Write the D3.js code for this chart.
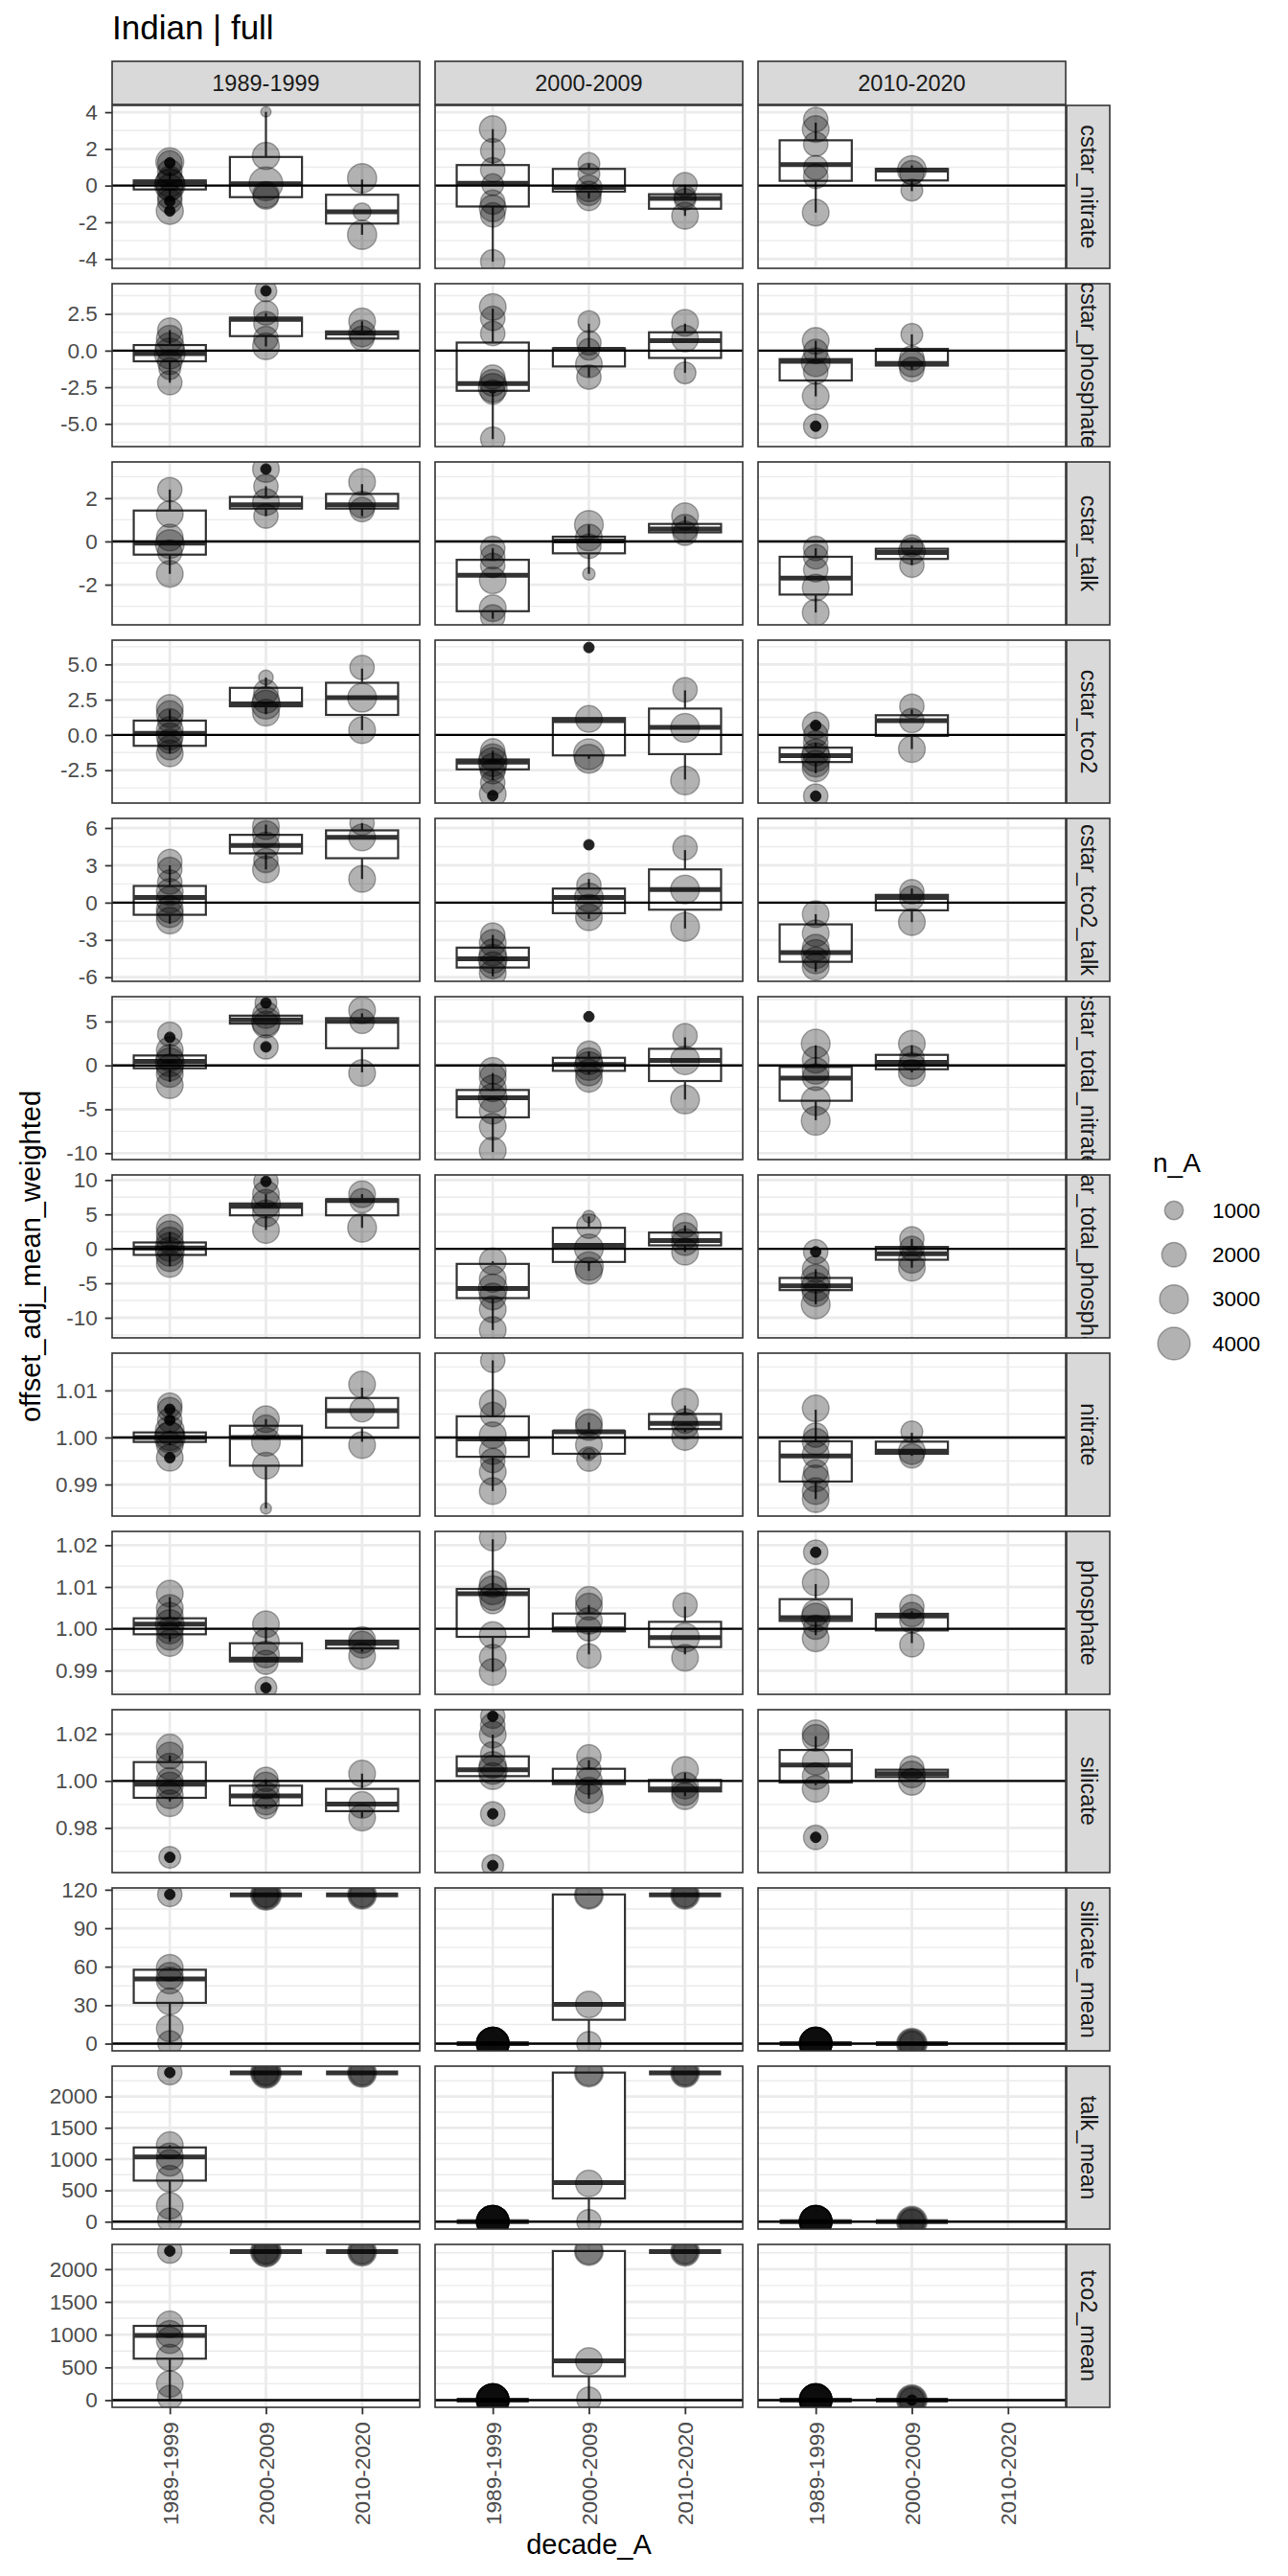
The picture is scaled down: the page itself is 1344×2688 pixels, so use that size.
<!DOCTYPE html>
<html>
<head>
<meta charset="utf-8">
<script src="https://cdn.jsdelivr.net/npm/d3@7"></script>
<style>
  body { margin: 0; background: #fff; }
  svg { display: block; }
</style>
</head>
<body>
<div id="chart"></div>
<script>
'use strict'

// facet columns and x categories share the same decades
const decades = ['1989-1999', '2000-2009', '2010-2020']

const variables = [
  'cstar_nitrate', 'cstar_phosphate', 'cstar_talk', 'cstar_tco2', 'cstar_tco2_talk',
  'cstar_total_nitrate', 'cstar_total_phosphate', 'nitrate', 'phosphate', 'silicate',
  'silicate_mean', 'talk_mean', 'tco2_mean'
]

// free y scale limits per row
const yLimits = [
  [-4.51, 4.37], [-6.55, 4.57], [-3.86, 3.68], [-4.83, 6.72], [-6.33, 6.77],
  [-10.73, 7.83], [-12.92, 10.74], [0.98329, 1.01793], [0.98435, 1.02328], [0.9610, 1.0303],
  [-5.6, 121.4], [-118, 2484], [-110, 2378]
]

const yTicks = [
  [-4, -2, 0, 2, 4], [-5, -2.5, 0, 2.5], [-2, 0, 2], [-2.5, 0, 2.5, 5], [-6, -3, 0, 3, 6],
  [-10, -5, 0, 5], [-10, -5, 0, 5, 10], [0.99, 1.00, 1.01], [0.99, 1.00, 1.01, 1.02], [0.98, 1.00, 1.02],
  [0, 30, 60, 90, 120], [0, 500, 1000, 1500, 2000], [0, 500, 1000, 1500, 2000]
]

const yFormats = ['d', '.1f', 'd', '.1f', 'd', 'd', 'd', '.2f', '.2f', '.2f', 'd', 'd', 'd']

// reference line per row
const refLines = [0, 0, 0, 0, 0, 0, 0, 1, 1, 1, 0, 0, 0]

// [variable, facet column, x category, lower whisker, q1, median, q3, upper whisker]
const boxStats = [
  ['cstar_nitrate', 0, 0, -0.6, -0.21, 0.18, 0.28, 0.75],
  ['cstar_nitrate', 0, 1, -0.6, -0.63, 0.1, 1.56, 4.02],
  ['cstar_nitrate', 0, 2, -2.68, -2.07, -1.43, -0.5, 0.33],
  ['cstar_nitrate', 1, 0, -4.15, -1.14, 0.12, 1.12, 3.08],
  ['cstar_nitrate', 1, 1, -0.7, -0.33, -0.1, 0.91, 1.2],
  ['cstar_nitrate', 1, 2, -1.65, -1.26, -0.7, -0.47, 0.05],
  ['cstar_nitrate', 2, 0, -1.47, 0.26, 1.14, 2.47, 3.43],
  ['cstar_nitrate', 2, 1, -0.3, 0.28, 0.84, 0.91, 1.1],

  ['cstar_phosphate', 0, 0, -2.19, -0.73, -0.2, 0.38, 1.4],
  ['cstar_phosphate', 0, 1, 0.29, 0.99, 2.13, 2.25, 2.57],
  ['cstar_phosphate', 0, 2, 0.8, 0.82, 1.2, 1.31, 2.0],
  ['cstar_phosphate', 1, 0, -6.04, -2.74, -2.25, 0.55, 2.86],
  ['cstar_phosphate', 1, 1, -1.81, -1.08, 0.09, 0.15, 1.84],
  ['cstar_phosphate', 1, 2, -1.52, -0.5, 0.67, 1.25, 1.84],
  ['cstar_phosphate', 2, 0, -3.12, -2.04, -0.73, -0.58, 0.67],
  ['cstar_phosphate', 2, 1, -1.28, -1.02, -0.88, 0.12, 1.11],

  ['cstar_talk', 0, 0, -1.5, -0.61, -0.08, 1.43, 2.4],
  ['cstar_talk', 0, 1, 1.17, 1.52, 1.7, 2.06, 2.55],
  ['cstar_talk', 0, 2, 1.17, 1.52, 1.7, 2.2, 2.65],
  ['cstar_talk', 1, 0, -3.58, -3.23, -1.56, -0.85, -0.32],
  ['cstar_talk', 1, 1, -1.5, -0.55, 0.02, 0.22, 0.77],
  ['cstar_talk', 1, 2, 0.38, 0.42, 0.57, 0.81, 1.17],
  ['cstar_talk', 2, 0, -3.29, -2.46, -1.7, -0.71, -0.32],
  ['cstar_talk', 2, 1, -1.1, -0.81, -0.51, -0.34, -0.2],

  ['cstar_tco2', 0, 0, -1.31, -0.77, 0.11, 1.02, 1.8],
  ['cstar_tco2', 0, 1, 1.47, 2.03, 2.21, 3.34, 4.07],
  ['cstar_tco2', 0, 2, 0.34, 1.42, 2.64, 3.7, 4.7],
  ['cstar_tco2', 1, 0, -3.2, -2.44, -1.92, -1.74, -1.13],
  ['cstar_tco2', 1, 1, -1.69, -1.45, 1.02, 1.2, 1.2],
  ['cstar_tco2', 1, 2, -3.16, -1.36, 0.54, 1.87, 3.16],
  ['cstar_tco2', 2, 0, -2.71, -1.92, -1.47, -0.9, -0.56],
  ['cstar_tco2', 2, 1, -1.0, -0.07, 1.02, 1.4, 1.8],

  ['cstar_tco2_talk', 0, 0, -1.7, -0.98, 0.41, 1.34, 3.0],
  ['cstar_tco2_talk', 0, 1, 2.67, 3.96, 4.6, 5.45, 6.27],
  ['cstar_tco2_talk', 0, 2, 1.9, 3.57, 5.24, 5.81, 6.4],
  ['cstar_tco2_talk', 1, 0, -5.94, -5.22, -4.52, -3.62, -2.6],
  ['cstar_tco2_talk', 1, 1, -1.3, -0.85, 0.41, 1.13, 1.9],
  ['cstar_tco2_talk', 1, 2, -2.08, -0.57, 1.05, 2.67, 4.22],
  ['cstar_tco2_talk', 2, 0, -5.55, -4.76, -4.01, -1.75, -0.93],
  ['cstar_tco2_talk', 2, 1, -1.57, -0.62, 0.41, 0.62, 1.13],

  ['cstar_total_nitrate', 0, 0, -1.89, -0.33, 0.47, 1.13, 2.47],
  ['cstar_total_nitrate', 0, 1, 4.65, 4.76, 5.19, 5.67, 5.74],
  ['cstar_total_nitrate', 0, 2, -0.8, 1.96, 5.01, 5.38, 5.92],
  ['cstar_total_nitrate', 1, 0, -9.88, -5.92, -3.7, -2.8, -0.87],
  ['cstar_total_nitrate', 1, 1, -0.98, -0.62, 0.11, 0.87, 1.56],
  ['cstar_total_nitrate', 1, 2, -3.89, -1.78, 0.58, 1.89, 3.2],
  ['cstar_total_nitrate', 2, 0, -6.25, -4.03, -1.45, -0.18, 2.29],
  ['cstar_total_nitrate', 2, 1, -0.8, -0.44, 0.36, 1.2, 2.29],

  ['cstar_total_phosphate', 0, 0, -2.5, -0.88, 0.14, 0.93, 2.46],
  ['cstar_total_phosphate', 0, 1, 2.74, 4.87, 6.17, 6.59, 7.94],
  ['cstar_total_phosphate', 0, 2, 3.06, 4.87, 7.0, 7.19, 7.94],
  ['cstar_total_phosphate', 1, 0, -11.79, -7.15, -5.75, -2.18, -1.81],
  ['cstar_total_phosphate', 1, 1, -3.2, -1.9, 0.51, 3.06, 4.69],
  ['cstar_total_phosphate', 1, 2, -0.42, 0.51, 1.21, 2.37, 3.39],
  ['cstar_total_phosphate', 2, 0, -8.07, -5.99, -5.38, -4.22, -2.97],
  ['cstar_total_phosphate', 2, 1, -2.74, -1.58, -0.7, 0.28, 1.44],

  ['nitrate', 0, 0, 0.9984, 0.99905, 1.0, 1.00108, 1.0015],
  ['nitrate', 0, 1, 0.9849, 0.994, 1.0, 1.0025, 1.0039],
  ['nitrate', 0, 2, 0.9991, 1.0021, 1.0057, 1.0084, 1.0106],
  ['nitrate', 1, 0, 0.9886, 0.9959, 0.9997, 1.0045, 1.0164],
  ['nitrate', 1, 1, 0.9954, 0.99654, 1.0012, 1.00136, 1.0032],
  ['nitrate', 1, 2, 1.0012, 1.0018, 1.003, 1.005, 1.0068],
  ['nitrate', 2, 0, 0.9869, 0.99064, 0.99607, 0.99919, 1.0059],
  ['nitrate', 2, 1, 0.9961, 0.99654, 0.99708, 0.99912, 1.001],

  ['phosphate', 0, 0, 0.9969, 0.9987, 1.00115, 1.00252, 1.0076],
  ['phosphate', 0, 1, 0.992, 0.99221, 0.99275, 0.99656, 1.0004],
  ['phosphate', 0, 2, 0.9945, 0.99534, 0.99656, 0.99718, 0.9973],
  ['phosphate', 1, 0, 0.9897, 0.99809, 1.0084, 1.00954, 1.0214],
  ['phosphate', 1, 1, 0.9939, 0.99939, 1.0, 1.00366, 1.0057],
  ['phosphate', 1, 2, 0.9939, 0.99565, 0.99794, 1.00168, 1.0053],
  ['phosphate', 2, 0, 0.9985, 1.0019, 1.00267, 1.0071, 1.0107],
  ['phosphate', 2, 1, 0.9966, 0.99962, 1.00305, 1.00359, 1.0042],

  ['silicate', 0, 0, 0.9912, 0.99281, 0.99864, 1.008, 1.0108],
  ['silicate', 0, 1, 0.9885, 0.98956, 0.99363, 0.99797, 1.0007],
  ['silicate', 0, 2, 0.9844, 0.98712, 0.9901, 0.99661, 1.0031],
  ['silicate', 1, 0, 1.002, 1.00203, 1.00475, 1.01044, 1.0197],
  ['silicate', 1, 1, 0.9925, 0.99864, 0.9996, 1.00515, 1.0088],
  ['silicate', 1, 2, 0.9935, 0.99553, 0.99661, 1.0004, 1.0034],
  ['silicate', 2, 0, 0.9982, 0.99932, 1.00678, 1.01315, 1.019],
  ['silicate', 2, 1, 1.0016, 1.00163, 1.00312, 1.00475, 1.0054],

  ['silicate_mean', 0, 0, 0, 31.8, 50.4, 57.6, 59.1],
  ['silicate_mean', 0, 1, 116, 116, 116, 116, 116],
  ['silicate_mean', 0, 2, 116, 116, 116, 116, 116],
  ['silicate_mean', 1, 0, 0, 0, 0, 0, 0],
  ['silicate_mean', 1, 1, 0, 18.6, 30.6, 116.3, 116.3],
  ['silicate_mean', 1, 2, 116, 116, 116, 116, 116],
  ['silicate_mean', 2, 0, 0, 0, 0, 0, 0],
  ['silicate_mean', 2, 1, 0, 0, 0, 0, 0],

  ['talk_mean', 0, 0, 0, 656, 1033, 1186, 1221],
  ['talk_mean', 0, 1, 2376, 2376, 2376, 2376, 2376],
  ['talk_mean', 0, 2, 2376, 2376, 2376, 2376, 2376],
  ['talk_mean', 1, 0, 0, 0, 0, 0, 0],
  ['talk_mean', 1, 1, 0, 371, 626, 2382, 2382],
  ['talk_mean', 1, 2, 2376, 2376, 2376, 2376, 2376],
  ['talk_mean', 2, 0, 0, 0, 0, 0, 0],
  ['talk_mean', 2, 1, 0, 0, 0, 0, 0],

  ['tco2_mean', 0, 0, 0, 633, 988, 1134, 1158],
  ['tco2_mean', 0, 1, 2268, 2268, 2268, 2268, 2268],
  ['tco2_mean', 0, 2, 2268, 2268, 2268, 2268, 2268],
  ['tco2_mean', 1, 0, 0, 0, 0, 0, 0],
  ['tco2_mean', 1, 1, 0, 365, 599, 2277, 2277],
  ['tco2_mean', 1, 2, 2268, 2268, 2268, 2268, 2268],
  ['tco2_mean', 2, 0, 0, 0, 0, 0, 0],
  ['tco2_mean', 2, 1, 0, 0, 0, 0, 0]
]

// [variable, facet column, x category, [[value, n_A], ...]]
const pointValues = [
  ['cstar_nitrate', 0, 0, [[1.3, 2800], [1.24, 2000], [0.75, 2000], [0.4, 2000], [0.15, 3000], [0.05, 3500], [-0.1, 2500], [-0.6, 2000], [-0.85, 2000], [-1.38, 2600]]],
  ['cstar_nitrate', 0, 1, [[4.02, 150], [1.62, 2600], [0.1, 4400], [-0.5, 2400], [-0.6, 2200]]],
  ['cstar_nitrate', 0, 2, [[0.4, 3100], [-1.43, 900], [-2.68, 3100]]],
  ['cstar_nitrate', 1, 0, [[3.08, 2500], [1.9, 2000], [0.86, 2000], [0.05, 1500], [-0.9, 2000], [-1.24, 2500], [-1.6, 2000], [-4.15, 2000]]],
  ['cstar_nitrate', 1, 1, [[1.2, 1500], [0.63, 1500], [-0.15, 2500], [-0.42, 2000], [-0.7, 2000]]],
  ['cstar_nitrate', 1, 2, [[0.05, 2000], [-0.6, 1500], [-0.75, 1500], [-1.65, 2500]]],
  ['cstar_nitrate', 2, 0, [[3.6, 2000], [3.08, 2500], [2.26, 2000], [0.98, 2000], [0.51, 2000], [-1.47, 2500]]],
  ['cstar_nitrate', 2, 1, [[0.85, 3000], [0.7, 2000], [-0.25, 1500]]],

  ['cstar_phosphate', 0, 0, [[1.4, 2000], [0.82, 2500], [0.23, 3000], [-0.2, 3500], [-0.79, 2000], [-1.23, 1500], [-2.19, 2000]]],
  ['cstar_phosphate', 0, 1, [[4.08, 1500], [2.57, 2000], [1.84, 2000], [0.82, 2000], [0.29, 2500]]],
  ['cstar_phosphate', 0, 2, [[2.0, 2500], [1.17, 2500], [0.85, 2000]]],
  ['cstar_phosphate', 1, 0, [[2.98, 2500], [2.2, 2000], [1.17, 2000], [-1.8, 2000], [-2.19, 2500], [-2.54, 3000], [-2.83, 2000], [-6.04, 2000]]],
  ['cstar_phosphate', 1, 1, [[1.98, 1500], [0.53, 2000], [0.09, 1500], [-0.93, 2500], [-1.81, 2000]]],
  ['cstar_phosphate', 1, 2, [[1.9, 2500], [0.82, 2500], [-1.52, 1500]]],
  ['cstar_phosphate', 2, 0, [[0.67, 2500], [-0.06, 2000], [-0.79, 3000], [-1.46, 2000], [-3.12, 2500], [-5.16, 2000]]],
  ['cstar_phosphate', 2, 1, [[1.11, 1500], [-0.5, 2000], [-0.88, 2500], [-1.28, 2000]]],

  ['cstar_talk', 0, 0, [[2.4, 2000], [1.27, 2500], [0.18, 2500], [-0.12, 3000], [-0.5, 2000], [-1.5, 2500]]],
  ['cstar_talk', 0, 1, [[3.35, 2500], [2.55, 2000], [1.82, 2500], [1.17, 2000]]],
  ['cstar_talk', 0, 2, [[2.75, 2500], [1.7, 2500], [1.47, 2000]]],
  ['cstar_talk', 1, 0, [[-0.32, 2000], [-0.71, 2000], [-1.11, 2000], [-1.8, 2500], [-3.09, 2500], [-3.49, 2000]]],
  ['cstar_talk', 1, 1, [[0.77, 3000], [0.18, 2500], [-0.22, 2000], [-1.5, 300]]],
  ['cstar_talk', 1, 2, [[1.17, 2500], [0.63, 2500], [0.38, 2000]]],
  ['cstar_talk', 2, 0, [[-0.32, 2000], [-0.71, 2000], [-1.31, 2000], [-2.14, 2500], [-3.29, 2500]]],
  ['cstar_talk', 2, 1, [[-0.2, 1500], [-0.45, 2500], [-1.1, 2000]]],

  ['cstar_tco2', 0, 0, [[1.92, 2500], [1.47, 2500], [1.0, 2000], [0.34, 2500], [-0.11, 2500], [-0.45, 2000], [-0.9, 2000], [-1.31, 2500]]],
  ['cstar_tco2', 0, 1, [[4.07, 500], [3.05, 2000], [2.48, 2500], [2.15, 3000], [1.58, 2500]]],
  ['cstar_tco2', 0, 2, [[4.79, 2000], [2.64, 3000], [0.34, 2500]]],
  ['cstar_tco2', 1, 0, [[-1.13, 2000], [-1.58, 2500], [-1.92, 3000], [-2.26, 2500], [-2.6, 2000], [-3.39, 2000], [-4.18, 2500]]],
  ['cstar_tco2', 1, 1, [[1.13, 2500], [-1.36, 3500], [-1.69, 3000]]],
  ['cstar_tco2', 1, 2, [[3.2, 2000], [0.5, 3000], [-3.23, 3000]]],
  ['cstar_tco2', 2, 0, [[0.68, 2500], [0.0, 2000], [-0.56, 2000], [-1.24, 2500], [-1.58, 3000], [-2.03, 2500], [-2.37, 2500], [-4.34, 2000]]],
  ['cstar_tco2', 2, 1, [[2.03, 2000], [1.02, 2000], [-1.0, 2500]]],

  ['cstar_tco2_talk', 0, 0, [[3.3, 2000], [2.67, 2000], [1.65, 2000], [0.87, 2500], [0.23, 2500], [-0.54, 2500], [-0.93, 2500], [-1.44, 2500]]],
  ['cstar_tco2_talk', 0, 1, [[6.14, 2500], [5.5, 2500], [4.6, 2500], [3.39, 2000], [2.67, 2500]]],
  ['cstar_tco2_talk', 0, 2, [[6.4, 2000], [5.24, 2500], [1.9, 2500]]],
  ['cstar_tco2_talk', 1, 0, [[-2.6, 2000], [-3.24, 2500], [-4.01, 2500], [-4.52, 3000], [-5.04, 2500], [-5.68, 2500]]],
  ['cstar_tco2_talk', 1, 1, [[1.39, 2000], [0.41, 3000], [-0.41, 2500], [-1.18, 2500]]],
  ['cstar_tco2_talk', 1, 2, [[4.42, 2000], [1.05, 3000], [-1.95, 3000]]],
  ['cstar_tco2_talk', 2, 0, [[-0.93, 2500], [-2.47, 2500], [-3.62, 2500], [-4.14, 3000], [-4.65, 2500], [-5.17, 2500]]],
  ['cstar_tco2_talk', 2, 1, [[0.87, 2000], [0.36, 2000], [-1.57, 2500]]],

  ['cstar_total_nitrate', 0, 0, [[3.56, 2000], [1.74, 2500], [0.84, 2500], [0.36, 3000], [-0.25, 2500], [-0.98, 2500], [-2.25, 2500]]],
  ['cstar_total_nitrate', 0, 1, [[7.12, 1500], [5.74, 2500], [5.0, 3000], [4.65, 2500], [2.11, 2000]]],
  ['cstar_total_nitrate', 0, 2, [[6.28, 2500], [5.01, 2000], [-0.87, 2500]]],
  ['cstar_total_nitrate', 1, 0, [[-0.62, 2500], [-1.34, 2500], [-2.62, 2500], [-3.7, 3000], [-5.16, 2500], [-6.97, 2500], [-9.7, 2500]]],
  ['cstar_total_nitrate', 1, 1, [[1.38, 2000], [0.47, 2500], [-0.07, 3000], [-0.8, 2500], [-1.53, 2500]]],
  ['cstar_total_nitrate', 1, 2, [[3.38, 2000], [0.58, 3000], [-3.89, 3000]]],
  ['cstar_total_nitrate', 2, 0, [[2.47, 3000], [0.65, 2500], [-0.62, 2500], [-1.34, 2500], [-4.07, 3000], [-6.32, 3000]]],
  ['cstar_total_nitrate', 2, 1, [[2.47, 2500], [0.84, 2000], [-0.07, 2500], [-0.87, 2500]]],

  ['cstar_total_phosphate', 0, 0, [[3.06, 2500], [2.13, 2500], [1.21, 2500], [0.28, 3000], [-0.42, 3000], [-1.35, 2500], [-2.18, 2500]]],
  ['cstar_total_phosphate', 0, 1, [[9.8, 2000], [7.94, 2500], [6.54, 3000], [5.15, 2500], [2.74, 2500]]],
  ['cstar_total_phosphate', 0, 2, [[7.94, 2500], [7.0, 2000], [3.06, 3000]]],
  ['cstar_total_phosphate', 1, 0, [[-1.81, 2500], [-4.36, 2500], [-5.75, 3000], [-6.91, 2500], [-8.77, 2500], [-11.79, 2500]]],
  ['cstar_total_phosphate', 1, 1, [[4.69, 300], [3.29, 2000], [0.05, 3000], [-2.5, 3000], [-3.2, 2500]]],
  ['cstar_total_phosphate', 1, 2, [[3.39, 2000], [1.9, 2500], [0.97, 2500], [-0.42, 2500]]],
  ['cstar_total_phosphate', 2, 0, [[-0.42, 2000], [-2.97, 2500], [-4.36, 3000], [-5.52, 3000], [-6.45, 2500], [-8.07, 3000]]],
  ['cstar_total_phosphate', 2, 1, [[1.44, 2000], [0.05, 2000], [-1.58, 2500], [-2.74, 2500]]],

  ['nitrate', 0, 0, [[1.0069, 2000], [1.0059, 2000], [1.0037, 2000], [1.0015, 3000], [1.0, 3500], [1.0003, 3000], [0.9984, 2500], [0.9957, 2500]]],
  ['nitrate', 0, 1, [[1.0039, 2500], [1.0022, 2000], [0.9991, 3000], [0.994, 2500], [0.9849, 200]]],
  ['nitrate', 0, 2, [[1.0113, 2500], [1.0059, 2000], [0.9984, 2500]]],
  ['nitrate', 1, 0, [[1.0164, 2000], [1.0073, 2500], [1.0049, 2000], [1.0005, 2500], [0.9971, 2500], [0.9951, 2000], [0.9927, 2500], [0.9886, 2500]]],
  ['nitrate', 1, 1, [[1.0032, 2500], [1.0022, 2500], [0.9984, 2500], [0.9964, 300], [0.9954, 2000]]],
  ['nitrate', 1, 2, [[1.0076, 2500], [1.0035, 2000], [1.0025, 2500], [1.0001, 2500]]],
  ['nitrate', 2, 0, [[1.0062, 2500], [1.0005, 2000], [0.9991, 2500], [0.9964, 2500], [0.9927, 2000], [0.9913, 2500], [0.9886, 2500], [0.9869, 2500]]],
  ['nitrate', 2, 1, [[1.0012, 1500], [0.9971, 2500], [0.9961, 2000]]],

  ['phosphate', 0, 0, [[1.0084, 2500], [1.005, 2500], [1.0031, 2500], [1.0011, 3000], [0.9996, 2500], [0.9981, 2500], [0.9966, 2500]]],
  ['phosphate', 0, 1, [[1.0011, 2500], [0.9969, 2500], [0.9939, 2500], [0.992, 2000], [0.9859, 1500]]],
  ['phosphate', 0, 2, [[0.9973, 2500], [0.9962, 2500], [0.9935, 2500]]],
  ['phosphate', 1, 0, [[1.0218, 2500], [1.0107, 2500], [1.0092, 3000], [1.0076, 2500], [1.0065, 2000], [0.9985, 2500], [0.9931, 2500], [0.9897, 2500]]],
  ['phosphate', 1, 1, [[1.0069, 2500], [1.0053, 2500], [1.0019, 2500], [1.0, 2000], [0.9935, 2000]]],
  ['phosphate', 1, 2, [[1.0057, 2000], [0.9979, 3000], [0.9931, 2500]]],
  ['phosphate', 2, 0, [[1.0183, 2000], [1.0111, 2500], [1.0038, 2500], [1.0027, 3000], [1.0004, 2000], [0.9977, 2500]]],
  ['phosphate', 2, 1, [[1.0053, 2000], [1.0034, 2000], [1.0019, 2000], [0.9962, 2000]]],

  ['silicate', 0, 0, [[1.0142, 2500], [1.0108, 2500], [1.0061, 2500], [1.0, 2500], [0.998, 2500], [0.9939, 2500], [0.9905, 2500], [0.9675, 1500]]],
  ['silicate', 0, 1, [[1.0007, 2000], [0.998, 2500], [0.9939, 2500], [0.9912, 2500], [0.9885, 1500]]],
  ['silicate', 0, 2, [[1.0031, 2500], [0.9898, 2500], [0.9844, 2500]]],
  ['silicate', 1, 0, [[1.0275, 2000], [1.0237, 2000], [1.0197, 2500], [1.0115, 2000], [1.0068, 2500], [1.0047, 3000], [1.002, 2500], [0.986, 2000], [0.964, 1500]]],
  ['silicate', 1, 1, [[1.0102, 2000], [1.0047, 2000], [1.0, 2500], [0.9959, 2500], [0.9925, 3000]]],
  ['silicate', 1, 2, [[1.0047, 2500], [0.998, 2500], [0.9953, 2500], [0.9935, 2500]]],
  ['silicate', 2, 0, [[1.0203, 2500], [1.0183, 2500], [1.0081, 2500], [1.002, 2500], [0.9966, 2500], [0.976, 2000]]],
  ['silicate', 2, 1, [[1.0054, 2000], [1.0027, 2500], [0.9996, 2500]]],

  ['silicate_mean', 0, 0, [[116.3, 2000], [59.1, 2500], [52.9, 2500], [49.2, 2500], [33.0, 2500], [11.9, 2500], [0.5, 2000]]],
  ['silicate_mean', 0, 1, [[116, 3500], [116, 3000], [116, 2500], [116, 2000]]],
  ['silicate_mean', 0, 2, [[116, 3000], [116, 2500], [116, 2000]]],
  ['silicate_mean', 1, 0, [[0, 4000], [0, 4000], [0, 4000], [0, 4000], [0, 4000], [0, 4000], [0, 4000], [0, 4000]]],
  ['silicate_mean', 1, 1, [[116, 3000], [116, 2500], [30.6, 2500], [0, 2000]]],
  ['silicate_mean', 1, 2, [[116, 3000], [116, 2500], [116, 2000]]],
  ['silicate_mean', 2, 0, [[0, 4000], [0, 4000], [0, 4000], [0, 4000], [0, 4000], [0, 4000], [0, 4000], [0, 4000]]],
  ['silicate_mean', 2, 1, [[0, 3500], [0, 3000], [0, 2500], [0, 2000]]],

  ['talk_mean', 0, 0, [[2382, 2000], [1221, 2500], [1043, 2500], [941, 2500], [687, 2500], [254, 2500], [25, 2000]]],
  ['talk_mean', 0, 1, [[2376, 3500], [2376, 3000], [2376, 2500], [2376, 2000]]],
  ['talk_mean', 0, 2, [[2376, 3000], [2376, 2500], [2376, 2000]]],
  ['talk_mean', 1, 0, [[0, 4000], [0, 4000], [0, 4000], [0, 4000], [0, 4000], [0, 4000], [0, 4000], [0, 4000]]],
  ['talk_mean', 1, 1, [[2382, 3000], [2382, 2500], [611, 2500], [0, 2000]]],
  ['talk_mean', 1, 2, [[2376, 3000], [2376, 2500], [2376, 2000]]],
  ['talk_mean', 2, 0, [[0, 4000], [0, 4000], [0, 4000], [0, 4000], [0, 4000], [0, 4000], [0, 4000], [0, 4000]]],
  ['talk_mean', 2, 1, [[0, 3500], [0, 3000], [0, 2500], [0, 2000]]],

  ['tco2_mean', 0, 0, [[2277, 2000], [1158, 2500], [1012, 2500], [915, 2500], [647, 2500], [248, 2500], [39, 2000]]],
  ['tco2_mean', 0, 1, [[2268, 3500], [2268, 3000], [2268, 2500], [2268, 2000]]],
  ['tco2_mean', 0, 2, [[2268, 3000], [2268, 2500], [2268, 2000]]],
  ['tco2_mean', 1, 0, [[0, 4000], [0, 4000], [0, 4000], [0, 4000], [0, 4000], [0, 4000], [0, 4000], [0, 4000]]],
  ['tco2_mean', 1, 1, [[2277, 3000], [2277, 2500], [599, 2500], [15, 2000]]],
  ['tco2_mean', 1, 2, [[2268, 3000], [2268, 2500], [2268, 2000]]],
  ['tco2_mean', 2, 0, [[0, 4000], [0, 4000], [0, 4000], [0, 4000], [0, 4000], [0, 4000], [0, 4000], [0, 4000]]],
  ['tco2_mean', 2, 1, [[0, 3500], [0, 3000], [0, 2500], [0, 2000]]]
]

// boxplot outliers [variable, facet column, x category, value]
const outlierValues = [
  ['cstar_nitrate', 0, 0, 1.24], ['cstar_nitrate', 0, 0, -0.85], ['cstar_nitrate', 0, 0, -1.38],
  ['cstar_phosphate', 0, 1, 4.08], ['cstar_phosphate', 1, 0, -2.54], ['cstar_phosphate', 2, 0, -5.16],
  ['cstar_talk', 0, 1, 3.35],
  ['cstar_tco2', 1, 0, -4.3], ['cstar_tco2', 1, 1, 6.2], ['cstar_tco2', 2, 0, 0.68], ['cstar_tco2', 2, 0, -4.34],
  ['cstar_tco2_talk', 1, 1, 4.65],
  ['cstar_total_nitrate', 0, 0, 3.2], ['cstar_total_nitrate', 0, 1, 7.12], ['cstar_total_nitrate', 0, 1, 2.11],
  ['cstar_total_nitrate', 1, 1, 5.56],
  ['cstar_total_phosphate', 0, 1, 9.8], ['cstar_total_phosphate', 2, 0, -0.42],
  ['nitrate', 0, 0, 1.006], ['nitrate', 0, 0, 1.0037], ['nitrate', 0, 0, 0.9957],
  ['phosphate', 0, 1, 0.9859], ['phosphate', 2, 0, 1.0183],
  ['silicate', 0, 0, 0.9675], ['silicate', 1, 0, 1.0275], ['silicate', 1, 0, 0.986], ['silicate', 1, 0, 0.964],
  ['silicate', 2, 0, 0.976],
  ['silicate_mean', 0, 0, 116.3],
  ['talk_mean', 0, 0, 2382],
  ['tco2_mean', 0, 0, 2277], ['tco2_mean', 2, 1, 0]
]

const legendBreaks = [1000, 2000, 3000, 4000]

// ---- layout ----
const W = 1344
const H = 2688
const FONT = '"Liberation Sans", Arial, Helvetica, sans-serif'
const plotLeft = 117
const panelW = 321
const gapX = 16
const panelTop = 110
const panelH = 170
const gapY = 16
const stripW = 45
const stripH = 45
const tickLen = 7.3
const lineCol = '#333333'

const fmtLocale = d3.formatLocale({ decimal: '.', thousands: ',', grouping: [3], currency: ['', ''], minus: '-' })

const panelX = c => plotLeft + c * (panelW + gapX)
const panelY = r => panelTop + r * (panelH + gapY)
const plotRight = panelX(2) + panelW

// radius (outer edge) grows with sqrt of n_A, like ggplot's area palette
const sizeScale = d3.scaleSqrt().domain([0, 4000]).range([3.35, 17.65])
const radius = n => sizeScale(n) - 0.75

const svg = d3.select('#chart').append('svg')
  .attr('width', W)
  .attr('height', H)
  .attr('font-family', FONT)

svg.append('rect').attr('width', W).attr('height', H).attr('fill', '#fff')

const defs = svg.append('defs')

// title
svg.append('text')
  .attr('x', plotLeft)
  .attr('y', 41)
  .attr('font-size', 35)
  .attr('fill', '#000')
  .text('Indian | full')

function makeXScale (c) {
  return d3.scalePoint()
    .domain(decades)
    .range([panelX(c), panelX(c) + panelW])
    .padding(0.6)
}

function minorBreaks (ticks, domain) {
  const step = ticks[1] - ticks[0]
  const out = []
  for (let k = -1; k <= ticks.length; k++) {
    const v = ticks[0] + step * (k + 0.5)
    if (v > domain[0] && v < domain[1]) out.push(v)
  }
  return out
}

variables.forEach((variable, r) => {
  const top = panelY(r)
  const y = d3.scaleLinear().domain(yLimits[r]).range([top + panelH, top])
  const minors = minorBreaks(yTicks[r], yLimits[r])

  decades.forEach((decade, c) => {
    const left = panelX(c)
    const x = makeXScale(c)
    const boxW = x.step() * 0.75
    const g = svg.append('g').attr('class', 'panel')

    // panel background and grid
    g.append('rect')
      .attr('x', left).attr('y', top).attr('width', panelW).attr('height', panelH)
      .attr('fill', '#fff')

    g.append('g').selectAll('line.minor')
      .data(minors)
      .enter()
      .append('line')
      .attr('x1', left).attr('x2', left + panelW)
      .attr('y1', d => y(d)).attr('y2', d => y(d))
      .attr('stroke', '#EBEBEB').attr('stroke-width', 1.4)

    g.append('g').selectAll('line.major')
      .data(yTicks[r])
      .enter()
      .append('line')
      .attr('x1', left).attr('x2', left + panelW)
      .attr('y1', d => y(d)).attr('y2', d => y(d))
      .attr('stroke', '#EBEBEB').attr('stroke-width', 2.8)

    g.append('g').selectAll('line.vmajor')
      .data(decades)
      .enter()
      .append('line')
      .attr('x1', d => x(d)).attr('x2', d => x(d))
      .attr('y1', top).attr('y2', top + panelH)
      .attr('stroke', '#EBEBEB').attr('stroke-width', 2.8)

    // clip data layers to the panel
    const clipId = `clip-${r}-${c}`
    defs.append('clipPath').attr('id', clipId)
      .append('rect')
      .attr('x', left).attr('y', top).attr('width', panelW).attr('height', panelH)
    const layer = g.append('g').attr('clip-path', `url(#${clipId})`)

    // boxplots
    const boxes = boxStats.filter(b => b[0] === variable && b[1] === c)
    const outs = outlierValues.filter(o => o[0] === variable && o[1] === c)

    layer.append('g').selectAll('circle.outlier')
      .data(outs)
      .enter()
      .append('circle')
      .attr('cx', d => x(decades[d[2]]))
      .attr('cy', d => y(d[3]))
      .attr('r', 5.5)
      .attr('fill', '#222').attr('stroke', '#222').attr('stroke-width', 1)

    const bx = layer.append('g').selectAll('g.box')
      .data(boxes)
      .enter()
      .append('g')
      .attr('class', 'box')

    bx.append('line')
      .attr('x1', d => x(decades[d[2]])).attr('x2', d => x(decades[d[2]]))
      .attr('y1', d => y(d[6])).attr('y2', d => y(d[7]))
      .attr('stroke', lineCol).attr('stroke-width', 2.2)
    bx.append('line')
      .attr('x1', d => x(decades[d[2]])).attr('x2', d => x(decades[d[2]]))
      .attr('y1', d => y(d[4])).attr('y2', d => y(d[3]))
      .attr('stroke', lineCol).attr('stroke-width', 2.2)
    bx.append('rect')
      .attr('x', d => x(decades[d[2]]) - boxW / 2)
      .attr('y', d => y(d[6]))
      .attr('width', boxW)
      .attr('height', d => Math.max(0, y(d[4]) - y(d[6])))
      .attr('fill', '#fff')
      .attr('stroke', lineCol).attr('stroke-width', 2.2)
    bx.append('line')
      .attr('x1', d => x(decades[d[2]]) - boxW / 2).attr('x2', d => x(decades[d[2]]) + boxW / 2)
      .attr('y1', d => y(d[5])).attr('y2', d => y(d[5]))
      .attr('stroke', lineCol).attr('stroke-width', 5)

    // reference line
    layer.append('line')
      .attr('x1', left).attr('x2', left + panelW)
      .attr('y1', y(refLines[r])).attr('y2', y(refLines[r]))
      .attr('stroke', '#000').attr('stroke-width', 2.4)

    // weighted points
    const pts = []
    pointValues
      .filter(p => p[0] === variable && p[1] === c)
      .forEach(p => p[3].forEach(v => pts.push({ x: p[2], value: v[0], n: v[1] })))

    layer.append('g').selectAll('circle.pt')
      .data(pts)
      .enter()
      .append('circle')
      .attr('cx', d => x(decades[d.x]))
      .attr('cy', d => y(d.value))
      .attr('r', d => radius(d.n))
      .attr('fill', '#000').attr('fill-opacity', 0.3)
      .attr('stroke', '#000').attr('stroke-opacity', 0.3).attr('stroke-width', 1.5)

    // panel border
    g.append('rect')
      .attr('x', left).attr('y', top).attr('width', panelW).attr('height', panelH)
      .attr('fill', 'none').attr('stroke', lineCol).attr('stroke-width', 1.6)

    // bottom x axis for the last row
    if (r === variables.length - 1) {
      const ax = svg.append('g')
        .attr('transform', `translate(0,${top + panelH})`)
        .call(d3.axisBottom(x).tickSize(tickLen))
      ax.select('.domain').remove()
      ax.selectAll('.tick line').attr('stroke', lineCol).attr('stroke-width', 1.8)
      ax.selectAll('.tick text')
        .attr('transform', 'rotate(-90)')
        .attr('text-anchor', 'end')
        .attr('x', -(tickLen + 8))
        .attr('y', 0)
        .attr('dy', '0.35em')
        .attr('fill', '#4D4D4D')
      ax.attr('font-family', FONT).attr('font-size', 22.5)
    }

    // top strips
    if (r === 0) {
      svg.append('rect')
        .attr('x', left).attr('y', top - stripH - 1).attr('width', panelW).attr('height', stripH)
        .attr('fill', '#D9D9D9').attr('stroke', lineCol).attr('stroke-width', 1.6)
      svg.append('text')
        .attr('x', left + panelW / 2)
        .attr('y', top - 1 - stripH / 2)
        .attr('text-anchor', 'middle')
        .attr('dominant-baseline', 'central')
        .attr('font-size', 23.5)
        .attr('fill', '#1A1A1A')
        .text(decade)
    }
  })

  // left y axis
  const ay = svg.append('g')
    .attr('transform', `translate(${plotLeft},0)`)
    .call(d3.axisLeft(y)
      .tickValues(yTicks[r])
      .tickFormat(fmtLocale.format(yFormats[r]))
      .tickSize(tickLen)
      .tickPadding(8))
  ay.select('.domain').remove()
  ay.selectAll('.tick line').attr('stroke', lineCol).attr('stroke-width', 1.8)
  ay.selectAll('.tick text').attr('fill', '#4D4D4D')
  ay.attr('font-family', FONT).attr('font-size', 22.5)

  // right strip
  const sx = plotRight + 1
  const sid = `strip-${r}`
  defs.append('clipPath').attr('id', sid)
    .append('rect')
    .attr('x', sx).attr('y', top).attr('width', stripW).attr('height', panelH)
  svg.append('rect')
    .attr('x', sx).attr('y', top).attr('width', stripW).attr('height', panelH)
    .attr('fill', '#D9D9D9').attr('stroke', lineCol).attr('stroke-width', 1.6)
  svg.append('g').attr('clip-path', `url(#${sid})`)
    .append('text')
    .attr('transform', `translate(${sx + stripW / 2},${top + panelH / 2}) rotate(90)`)
    .attr('text-anchor', 'middle')
    .attr('dominant-baseline', 'central')
    .attr('font-size', 23.5)
    .attr('fill', '#1A1A1A')
    .text(variable)
})

// axis titles
svg.append('text')
  .attr('x', (plotLeft + plotRight) / 2)
  .attr('y', 2665)
  .attr('text-anchor', 'middle')
  .attr('font-size', 29)
  .attr('fill', '#000')
  .text('decade_A')

const plotBottom = panelY(variables.length - 1) + panelH
svg.append('text')
  .attr('transform', `translate(42,${(panelTop + plotBottom) / 2}) rotate(-90)`)
  .attr('text-anchor', 'middle')
  .attr('font-size', 29)
  .attr('fill', '#000')
  .text('offset_adj_mean_weighted')

// size legend
const legend = svg.append('g').attr('class', 'legend')
legend.append('text')
  .attr('x', 1203)
  .attr('y', 1223)
  .attr('font-size', 28)
  .attr('fill', '#000')
  .text('n_A')

const keyY = d3.scalePoint().domain(legendBreaks).range([1263, 1402])
const keys = legend.selectAll('g.key')
  .data(legendBreaks)
  .enter()
  .append('g')
  .attr('class', 'key')
keys.append('circle')
  .attr('cx', 1225)
  .attr('cy', d => keyY(d))
  .attr('r', d => radius(d))
  .attr('fill', '#000').attr('fill-opacity', 0.3)
  .attr('stroke', '#000').attr('stroke-opacity', 0.3).attr('stroke-width', 1.5)
keys.append('text')
  .attr('x', 1265)
  .attr('y', d => keyY(d))
  .attr('dominant-baseline', 'central')
  .attr('font-size', 22.5)
  .attr('fill', '#000')
  .text(d => d)
</script>
</body>
</html>
